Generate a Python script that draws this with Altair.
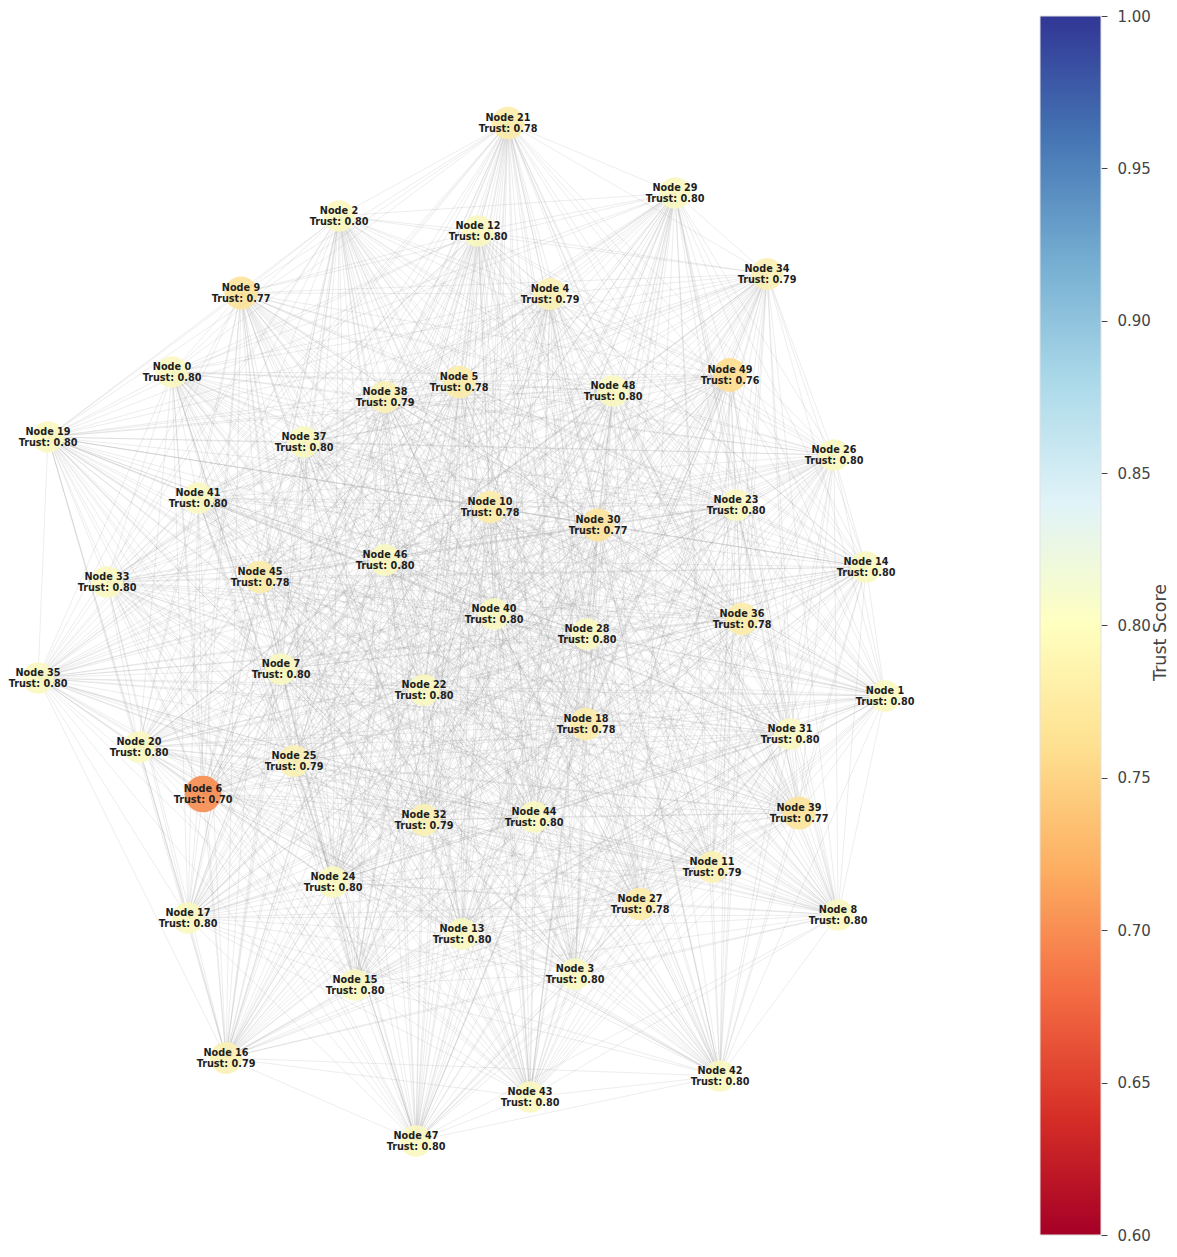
import itertools
import altair as alt
import pandas as pd

# ---- data ----
node_ids = list(range(50))
# layout positions (in the picture's layout units, y grows downward)
pos_x = [172, 885, 339, 575, 550, 459, 203, 281, 838, 241,
         490, 712, 478, 462, 866, 355, 226, 188, 586, 48,
         139, 508, 424, 736, 333, 294, 834, 640, 587, 675,
         598, 790, 424, 107, 767, 38, 742, 304, 385, 799,
         494, 198, 720, 530, 534, 260, 385, 416, 613, 730]
pos_y = [371, 695, 215, 973, 293, 381, 793, 668, 914, 292,
         506, 866, 230, 933, 566, 984, 1057, 917, 723, 436,
         746, 122, 689, 504, 881, 760, 454, 903, 633, 192,
         524, 733, 819, 581, 273, 677, 618, 441, 396, 812,
         613, 497, 1075, 1096, 816, 576, 559, 1140, 390, 374]
trust = [0.80, 0.80, 0.80, 0.80, 0.79, 0.78, 0.70, 0.80, 0.80, 0.77,
         0.78, 0.79, 0.80, 0.80, 0.80, 0.80, 0.79, 0.80, 0.78, 0.80,
         0.80, 0.78, 0.80, 0.80, 0.80, 0.79, 0.80, 0.78, 0.80, 0.80,
         0.77, 0.80, 0.79, 0.80, 0.79, 0.80, 0.78, 0.80, 0.79, 0.77,
         0.80, 0.80, 0.80, 0.80, 0.80, 0.78, 0.80, 0.80, 0.80, 0.76]
cbar_ticks = [0.60, 0.65, 0.70, 0.75, 0.80, 0.85, 0.90, 0.95, 1.00]

nodes = pd.DataFrame({
    "id": node_ids,
    "x": pos_x,
    "y": pos_y,
    "trust": trust,
    "label": [f"Node {i}\nTrust: {t:.2f}" for i, t in zip(node_ids, trust)],
})

# every pair of nodes is linked (dense trust network)
edges = pd.DataFrame(
    [{"x": pos_x[a], "y": pos_y[a], "x2": pos_x[b], "y2": pos_y[b]}
     for a, b in itertools.combinations(node_ids, 2)]
)

W1 = 1021
H = 1234
FONT = "DejaVu Sans"

xs = alt.Scale(domain=[8, 8 + W1], nice=False, zero=False)
ys = alt.Scale(domain=[8, 8 + H], nice=False, zero=False, reverse=True)
cscale = alt.Scale(scheme="redyellowblue", domain=[0.6, 1.0])

edge_layer = alt.Chart(edges).mark_rule(
    color="#8c8c8c", opacity=0.23, strokeWidth=0.7
).encode(
    x=alt.X("x:Q", scale=xs, axis=None),
    y=alt.Y("y:Q", scale=ys, axis=None),
    x2="x2:Q",
    y2="y2:Q",
)

node_layer = alt.Chart(nodes).mark_circle(opacity=0.92, strokeWidth=0).encode(
    x=alt.X("x:Q", scale=xs, axis=None),
    y=alt.Y("y:Q", scale=ys, axis=None),
    color=alt.Color("trust:Q", scale=cscale, legend=None),
    size=alt.Size("trust:Q", scale=alt.Scale(domain=[0.70, 0.80], range=[1350, 1000]), legend=None),
)

label_layer = alt.Chart(nodes).mark_text(
    font=FONT, fontSize=9.7, fontWeight="bold", color="#1e1e1e",
    lineBreak="\n", lineHeight=11, align="center", baseline="middle", dy=-5.5,
).encode(
    x=alt.X("x:Q", scale=xs, axis=None),
    y=alt.Y("y:Q", scale=ys, axis=None),
    text="label:N",
)

network = alt.layer(edge_layer, node_layer, label_layer).properties(width=W1, height=H)

# ---- colorbar ----
px_per_unit = (1234 - 15) / 0.4
lo = 0.6 - 8 / px_per_unit
hi = 1.0 + 7 / px_per_unit

stops_colors = ["#a50026", "#d73027", "#f46d43", "#fdae61", "#fee090", "#ffffbf",
                "#e0f3f8", "#abd9e9", "#74add1", "#4575b4", "#313695"]
gradient = alt.LinearGradient(
    gradient="linear",
    stops=[alt.GradientStop(offset=i / 10, color=c) for i, c in enumerate(stops_colors)],
    x1=0, x2=0, y1=1, y2=0,
)

cbar = alt.Chart(pd.DataFrame({"lo": [0.6], "hi": [1.0]})).mark_rect(
    fill=gradient, stroke="#e2e2e2", strokeWidth=1
).encode(
    x=alt.value(0),
    x2=alt.value(61),
    y=alt.Y("lo:Q", scale=alt.Scale(domain=[lo, hi], nice=False, zero=False),
            axis=alt.Axis(orient="right", values=cbar_ticks, format=".2f",
                          tickSize=6, tickColor="#444", tickWidth=1,
                          labelFontSize=15, labelColor="#444", labelFont=FONT,
                          labelPadding=10, domain=False, grid=False,
                          title="Trust Score", titleFont=FONT, titleFontSize=17.5,
                          titleFontWeight="normal", titleColor="#444",
                          titleAngle=270, titleBaseline="middle", titleAlign="center",
                          titleX=59, titleY=623)),
    y2="hi:Q",
).properties(width=61, height=H)

chart = alt.hconcat(network, cbar, spacing=10).properties(
    padding=0
).configure(font=FONT).configure_view(strokeWidth=0)

chart.save("out.html", embed_options={"renderer": "svg", "actions": False})
